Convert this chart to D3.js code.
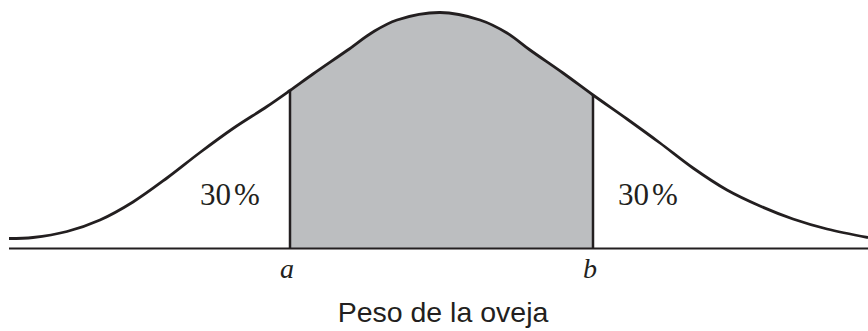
<!DOCTYPE html>
<html>
<head>
<meta charset="utf-8">
<script src="https://cdn.jsdelivr.net/npm/d3@7"></script>
<style>
  body { margin: 0; background: #fff; }
  svg { display: block; }
</style>
</head>
<body>
<div id="chart"></div>
<script>
// curve (x in sd-like units, y = height of density)
const curveX = [-4.31, -4.07, -3.73, -3.40, -3.07, -2.73, -2.40, -2.07, -1.73, -1.50,
  -1.27, -0.93, -0.67, -0.43, 0, 0.40, 0.67, 0.90, 1.23, 1.53,
  1.87, 2.20, 2.53, 2.87, 3.20, 3.53, 3.87, 4.28];
const curveY = [0.10, 0.11, 0.17, 0.285, 0.465, 0.705, 0.96, 1.20, 1.42, 1.58,
  1.745, 1.98, 2.165, 2.285, 2.36, 2.285, 2.155, 1.985, 1.755, 1.535,
  1.295, 1.055, 0.805, 0.585, 0.425, 0.295, 0.195, 0.11];

// cut points and tail labels
const cutNames = ['a', 'b'];
const cutX = [-1.50, 1.53];
const tailLabels = ['30', '30'];
const tailX = [-2.10, 2.08];
const xTitle = 'Peso de la oveja';

const width = 868, height = 331;
const ink = '#231f20';

const svg = d3.select('#chart').append('svg')
    .attr('width', width)
    .attr('height', height);

const xScale = d3.scaleLinear().domain([-4.31, 4.28]).range([9, 868]);
const yScale = d3.scaleLinear().domain([0, 2.485]).range([248.5, 0]);

const pts = curveX.map((x, i) => ({x: x, y: curveY[i]}));

// shaded middle area, clipped between a and b
svg.append('clipPath')
    .attr('id', 'mid')
    .append('rect')
    .attr('x', xScale(cutX[0]))
    .attr('y', 0)
    .attr('width', xScale(cutX[1]) - xScale(cutX[0]))
    .attr('height', yScale(0));

const area = d3.area()
    .x(d => xScale(d.x))
    .y0(yScale(0))
    .y1(d => yScale(d.y))
    .curve(d3.curveCatmullRom.alpha(0.5));

svg.append('path')
    .datum(pts)
    .attr('d', area)
    .attr('clip-path', 'url(#mid)')
    .style('fill', '#bcbec0');

// vertical lines at a and b
cutX.forEach(cx => {
    const p = pts.find(d => d.x === cx);
    svg.append('line')
        .attr('x1', xScale(cx))
        .attr('x2', xScale(cx))
        .attr('y1', yScale(0))
        .attr('y2', yScale(p.y))
        .style('stroke', ink)
        .style('stroke-width', 2.5);
});

// the curve
const line = d3.line()
    .x(d => xScale(d.x))
    .y(d => yScale(d.y))
    .curve(d3.curveCatmullRom.alpha(0.5));

svg.append('path')
    .datum(pts)
    .attr('d', line)
    .style('fill', 'none')
    .style('stroke', ink)
    .style('stroke-width', 2.8);

// baseline
svg.append('line')
    .attr('x1', xScale(-4.31))
    .attr('x2', xScale(4.28))
    .attr('y1', yScale(0))
    .attr('y2', yScale(0))
    .style('stroke', ink)
    .style('stroke-width', 2);

// tail percentages
tailLabels.forEach((t, i) => {
    const txt = svg.append('text')
        .attr('x', xScale(tailX[i]))
        .attr('y', 205)
        .attr('text-anchor', 'middle')
        .style('font-family', '"Liberation Serif", "Times New Roman", serif')
        .style('font-size', '31px')
        .style('fill', ink)
        .text(t);
    txt.append('tspan')
        .attr('dx', 3)
        .text('%');
});

// a, b
cutNames.forEach((n, i) => {
    svg.append('text')
        .attr('x', xScale(cutX[i]) - 3)
        .attr('y', 278)
        .attr('text-anchor', 'middle')
        .style('font-family', '"Liberation Serif", "Times New Roman", serif')
        .style('font-style', 'italic')
        .style('font-size', '28px')
        .style('fill', ink)
        .text(n);
});

// axis title
svg.append('text')
    .attr('x', 443)
    .attr('y', 322)
    .attr('text-anchor', 'middle')
    .style('font-family', '"Liberation Sans", Arial, sans-serif')
    .style('font-size', '28.5px')
    .style('fill', ink)
    .text(xTitle);
</script>
</body>
</html>
